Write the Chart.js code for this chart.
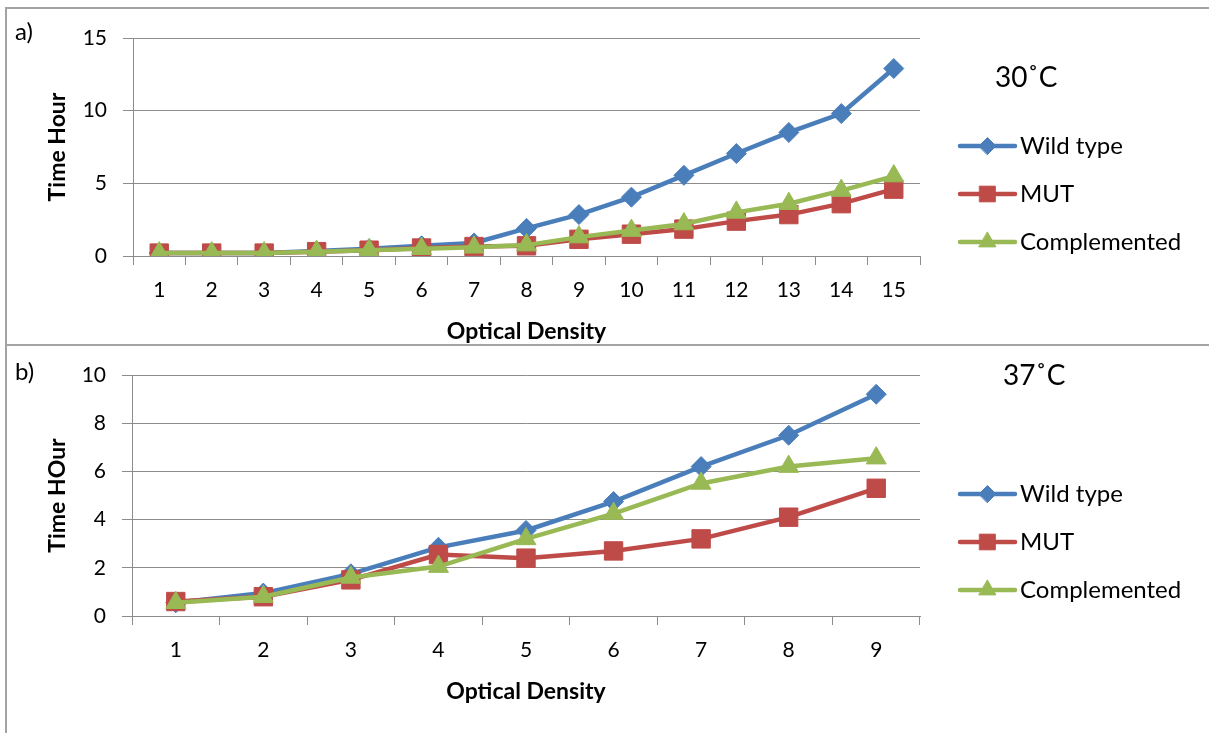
<!DOCTYPE html>
<html>
<head>
<meta charset="utf-8">
<script src="https://cdn.jsdelivr.net/npm/chart.js@4.4.1/dist/chart.umd.min.js"></script>
<style>
  body { margin: 0; width: 1209px; height: 733px; overflow: hidden; background: #fff; font-family: Lato, sans-serif; }
  .panel { position: absolute; box-sizing: border-box; border: 2px solid #a3a3a3; }
  #pa { left: 5px; top: 7px; width: 1260px; height: 339px; }
  #pb { left: 5px; top: 344px; width: 1260px; height: 420px; }
  canvas { position: absolute; left: 0; }
  #chartA { top: 0; }
  #chartB { top: 345px; }
  .txt { position: absolute; color: #000; line-height: 1; white-space: nowrap; }
</style>
</head>
<body>
<div class="panel" id="pa"></div>
<div class="panel" id="pb"></div>
<canvas id="chartA" width="1209" height="345"></canvas>
<canvas id="chartB" width="1209" height="388"></canvas>
<div class="txt" style="left:15px;top:19px;font-size:24px">a)</div>
<div class="txt" style="left:15px;top:359px;font-size:24px">b)</div>
<div class="txt" style="left:995px;top:62px;font-size:28px">30˚C</div>
<div class="txt" style="left:1003px;top:360px;font-size:28px">37˚C</div>
<script>
// 30 °C
const labelsA = ['1','2','3','4','5','6','7','8','9','10','11','12','13','14','15'];
const wildA = [0.2, 0.2, 0.2, 0.35, 0.5, 0.7, 0.9, 1.9, 2.85, 4.05, 5.55, 7.05, 8.5, 9.8, 12.9];
const mutA  = [0.2, 0.2, 0.2, 0.3, 0.4, 0.55, 0.65, 0.7, 1.15, 1.5, 1.85, 2.4, 2.85, 3.6, 4.6];
const compA = [0.2, 0.2, 0.2, 0.3, 0.4, 0.5, 0.6, 0.75, 1.3, 1.75, 2.2, 3.0, 3.6, 4.5, 5.5];
const yTicksA = [0, 5, 10, 15];

// 37 °C
const labelsB = ['1','2','3','4','5','6','7','8','9'];
const wildB = [0.55, 0.95, 1.75, 2.85, 3.55, 4.75, 6.2, 7.5, 9.2];
const mutB  = [0.6, 0.8, 1.5, 2.55, 2.4, 2.7, 3.2, 4.1, 5.3];
const compB = [0.55, 0.8, 1.6, 2.05, 3.2, 4.25, 5.5, 6.2, 6.55];
const yTicksB = [0, 2, 4, 6, 8, 10];

const BLUE = '#4A7EBB', RED = '#BE4B48', GREEN = '#98B954', GRID = '#8c8c8c';
const FONT = 'Lato';

function series(name, data, color, style, radius, order) {
  return {
    label: name, data: data, order: order,
    borderColor: color, backgroundColor: color, borderWidth: 4.5,
    pointStyle: style, pointRadius: radius, pointBorderWidth: 1,
    pointBackgroundColor: color, pointBorderColor: color, tension: 0
  };
}

// Excel-like legend on the right side: line + marker + name
const sideLegend = {
  id: 'sideLegend',
  afterDraw(chart, args, opts) {
    const ctx = chart.ctx;
    chart.data.datasets.forEach((ds, i) => {
      const y = opts.top + i * opts.gap;
      ctx.save();
      ctx.strokeStyle = ds.borderColor;
      ctx.fillStyle = ds.backgroundColor;
      ctx.lineWidth = ds.borderWidth;
      ctx.lineCap = 'round';
      ctx.beginPath();
      ctx.moveTo(opts.x0, y);
      ctx.lineTo(opts.x1, y);
      ctx.stroke();
      ctx.lineWidth = 1;
      Chart.helpers.drawPoint(ctx, { pointStyle: ds.pointStyle, radius: ds.pointRadius * 0.85, borderWidth: 1, rotation: 0 }, (opts.x0 + opts.x1) / 2, y);
      ctx.fillStyle = '#000';
      ctx.font = opts.size + 'px ' + FONT;
      ctx.textBaseline = 'middle';
      ctx.textAlign = 'left';
      ctx.fillText(ds.label, opts.tx, y);
      ctx.restore();
    });
  }
};

function makeChart(id, labels, wild, mut, comp, yTicks, yTitle, yWidth, pad, legendTop) {
  return new Chart(document.getElementById(id), {
    type: 'line',
    data: {
      labels: labels,
      datasets: [
        series('Wild type', wild, BLUE, 'rectRot', 10, 3),
        series('MUT', mut, RED, 'rect', 13, 2),
        series('Complemented', comp, GREEN, 'triangle', 11.5, 1)
      ]
    },
    options: {
      responsive: false,
      animation: false,
      layout: { padding: pad },
      plugins: {
        legend: { display: false },
        tooltip: { enabled: false },
        sideLegend: { x0: 960, x1: 1015, tx: 1020, top: legendTop, gap: 48, size: 24 }
      },
      scales: {
        x: {
          offset: true,
          grid: { offset: true, drawOnChartArea: false, color: GRID, tickLength: 9 },
          border: { color: GRID },
          ticks: { font: { family: FONT, size: 21 }, color: '#000', padding: 13, autoSkip: false, maxRotation: 0 },
          title: { display: true, text: 'Optical Density', color: '#000', padding: { top: 0, bottom: 0 },
                   font: { family: FONT, size: 23, weight: 'bold', lineHeight: 1 } },
          afterFit(s) { s.height = 87; }
        },
        y: {
          min: yTicks[0],
          max: yTicks[yTicks.length - 1],
          afterBuildTicks(s) { s.ticks = yTicks.map(v => ({ value: v })); },
          grid: { color: GRID, tickLength: 10 },
          border: { color: GRID },
          ticks: { font: { family: FONT, size: 21 }, color: '#000', padding: 16 },
          title: { display: true, text: yTitle, color: '#000', padding: { top: 46, bottom: 0 },
                   font: { family: FONT, size: 23, weight: 'bold', lineHeight: 1 } },
          afterFit(s) { s.width = yWidth; }
        }
      }
    },
    plugins: [sideLegend]
  });
}

makeChart('chartA', labelsA, wildA, mutA, compA, yTicksA, 'Time Hour', 133,
  { left: 0, right: 289, top: 38, bottom: 2 }, 146);
makeChart('chartB', labelsB, wildB, mutB, compB, yTicksB, 'Time HOur', 132,
  { left: 0, right: 289, top: 30, bottom: 30 }, 149);
</script>
</body>
</html>
